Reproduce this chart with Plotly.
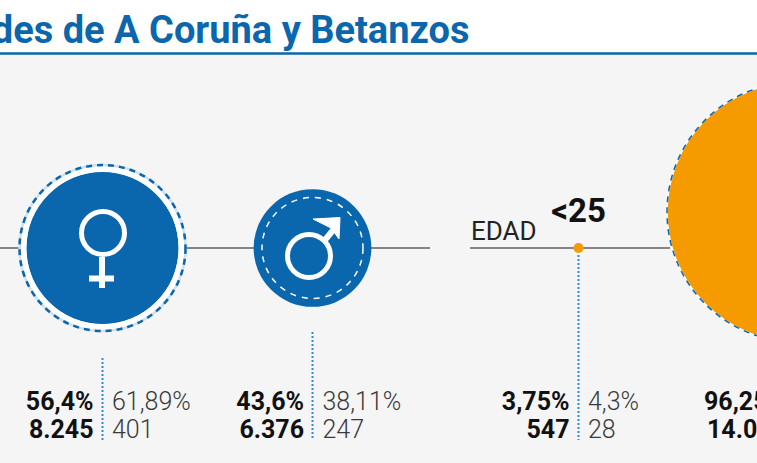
import plotly.graph_objects as go

# values
pct_labels_total = ["56,4%", "43,6%", "3,75%", "96,25%"]
total_counts = ["8.245", "6.376", "547", "14.074"]
pct_labels_sub = ["61,89%", "38,11%", "4,3%"]
sub_counts = ["401", "247", "28"]
pct_values = [56.4, 43.6, 3.75, 96.25]
title_text = "des de A Coruña y Betanzos"

# layout helpers, everything is in picture pixels
W, H = 757, 463
BLUE = "#0a66ad"
ORANGE = "#f59b00"
DOT = "#2b8fca"
GREY = "#858585"
R_SCALE = 1.35

cx = [102.5, 312.5, 578.5, 797]
cy = [248, 248, 248, 212]
colors = [BLUE, BLUE, ORANGE, ORANGE]
text_x = [93.5, 304, 569.5, 786]
dot_top = [358, 332, 255, 358]
ROW1, ROW2 = 403.5, 431.5

fig = go.Figure()

# horizontal rules
for x0, x1 in [(-5, 430), (470, 670)]:
    fig.add_trace(go.Scatter(x=[x0, x1], y=[248, 248], mode="lines",
                             line=dict(color=GREY, width=2), hoverinfo="skip"))

# dotted leaders
for i in range(3):
    fig.add_trace(go.Scatter(x=[cx[i], cx[i]], y=[dot_top[i], 440], mode="lines",
                             line=dict(color=DOT, width=2, dash="2px 2px"), hoverinfo="skip"))

# bubbles, radius follows the percentage
fig.add_trace(go.Scatter(x=cx, y=cy, mode="markers",
                         marker=dict(size=[2 * R_SCALE * p for p in pct_values],
                                     sizemode="diameter", color=colors, opacity=1,
                                     line=dict(width=0)),
                         hoverinfo="skip"))


def ring(x, y, r, color, width, dash=None):
    fig.add_shape(type="circle", x0=x - r, x1=x + r, y0=y - r, y1=y + r,
                  line=dict(color=color, width=width, dash=dash))


# rings around the bubbles
ring(cx[0], cy[0], 79, "#ffffff", 6)
ring(cx[0], cy[0], 83, "#cfe0ee", 2.5)
ring(cx[0], cy[0], 83, BLUE, 2.5, "6px 5px")
ring(cx[1], cy[1], 50.5, "#ffffff", 1.5, "6px 6px")
ring(cx[3], cy[3], 130, "#ffffff", 1.5)
ring(cx[3], cy[3], 130, BLUE, 1.5, "6px 5px")

# female symbol
ring(103, 233, 21.5, "#ffffff", 5)
fig.add_shape(type="line", x0=102, x1=102, y0=257, y1=288, line=dict(color="#ffffff", width=6))
fig.add_shape(type="line", x0=89, x1=114, y0=278.5, y1=278.5, line=dict(color="#ffffff", width=6))

# male symbol
ring(309, 256, 21.5, "#ffffff", 5)
fig.add_shape(type="line", x0=325, x1=338, y0=240, y1=224, line=dict(color="#ffffff", width=6))
fig.add_shape(type="path", path="M 313 219 L 340 217.5 L 339 239 L 331 228 Z",
              fillcolor="#ffffff", line=dict(color="#ffffff", width=1))

# figures under the bubbles
bold = dict(family="Roboto", size=25, color="#111111", weight=700)
light = dict(family="Roboto", size=25, color="#3a3a3a", weight=300)
for row_y, left, right in [(ROW1, pct_labels_total, pct_labels_sub),
                           (ROW2, total_counts, sub_counts)]:
    fig.add_trace(go.Scatter(x=text_x, y=[row_y] * 4, text=left, mode="text",
                             textposition="middle left", textfont=bold, hoverinfo="skip"))
    fig.add_trace(go.Scatter(x=[x + 18.5 for x in text_x[:3]], y=[row_y] * 3, text=right, mode="text",
                             textposition="middle right", textfont=light, hoverinfo="skip"))

# labels on the age rule
fig.add_trace(go.Scatter(x=[471], y=[233], text=["EDAD"], mode="text", textposition="middle right",
                         textfont=dict(family="Roboto", size=26, color="#222222"), hoverinfo="skip"))
fig.add_trace(go.Scatter(x=[578.5], y=[214], text=["<25"], mode="text", textposition="middle center",
                         textfont=dict(family="Roboto", size=33, color="#111111", weight=700), hoverinfo="skip"))

# title
fig.add_trace(go.Scatter(x=[469.5], y=[33], text=[title_text], mode="text", textposition="middle left",
                         textfont=dict(family="Roboto", size=38, color=BLUE, weight=700), hoverinfo="skip"))

# white header band and its rule
fig.add_shape(type="rect", x0=0, x1=W, y0=0, y1=53, fillcolor="#ffffff", line_width=0, layer="below")
fig.add_shape(type="line", x0=0, x1=W, y0=53.5, y1=53.5, line=dict(color=BLUE, width=2.5), layer="below")

fig.update_layout(
    width=W, height=H,
    margin=dict(l=0, r=0, t=0, b=0),
    paper_bgcolor="#f5f5f5",
    plot_bgcolor="#f5f5f5",
    showlegend=False,
    xaxis=dict(range=[0, W], visible=False, fixedrange=True),
    yaxis=dict(range=[H, 0], visible=False, fixedrange=True),
)
# the page margin would push the chart 8px off
fig.write_html("out.html", config={"displayModeBar": False},
               post_script="document.body.style.margin='0';")
